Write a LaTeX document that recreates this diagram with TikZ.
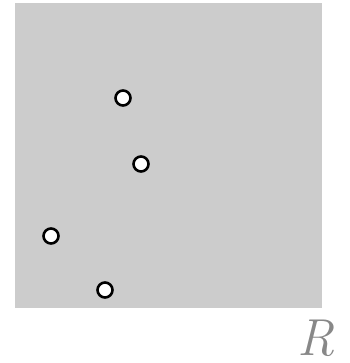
\documentclass[tikz,border=0pt]{standalone}
\usepackage{tikz}
\definecolor{region}{RGB}{204, 204, 204}
\definecolor{labelgray}{RGB}{136, 136, 136}

\begin{document}
\begin{tikzpicture}[x=1pt, y=-1pt,
            sample/.style={circle, draw=black, fill=white, line width=2.6pt, minimum size=15pt, inner sep=0pt},
            setname/.style={text=labelgray, font=\fontsize{52}{52}\selectfont\itshape, inner sep=0pt}
        ]
            \useasboundingbox (0,0) rectangle (349,363);
            \fill[region] (15,3) rectangle (322,308);

            \node[sample] (p1) at (123,98) {};
            \node[sample] (p2) at (141,164) {};
            \node[sample] (p3) at (51,236) {};
            \node[sample] (p4) at (105,290) {};

            \node[setname] (rlabel) at (316,338) {R};
        \end{tikzpicture}
\end{document}
